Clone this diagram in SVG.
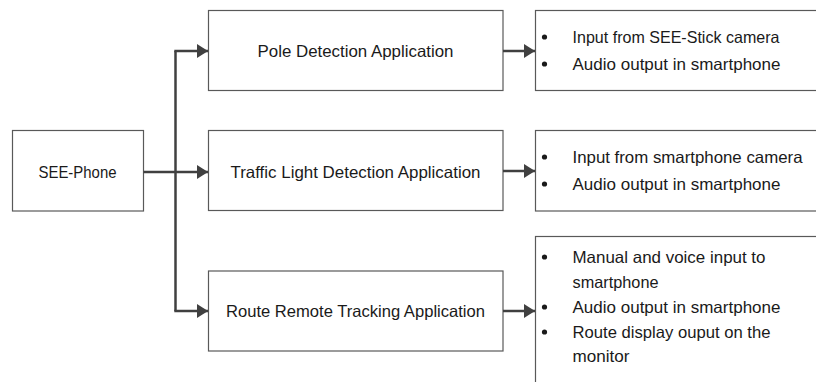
<svg xmlns="http://www.w3.org/2000/svg" width="816" height="382" viewBox="0 0 816 382">
<style>
.box{fill:#fff;stroke:#595959;stroke-width:1.2}
.t{font-family:"Liberation Sans",Arial,sans-serif;font-size:16.5px;fill:#1a1a1a}
.c{text-anchor:middle}
.con{fill:none;stroke:#404040;stroke-width:2.5}
.dot{fill:#1a1a1a}
</style>
<defs>
<marker id="arr" markerUnits="userSpaceOnUse" markerWidth="12" markerHeight="14" refX="11" refY="7" orient="auto">
<path d="M0,0 L11,7 L0,14 Z" fill="#404040"/>
</marker>
</defs>
<rect width="816" height="382" fill="#fff"/>
<g id="see-phone">
<rect class="box" x="12.5" y="130.5" width="131" height="80.5"/>
<text class="t c" x="77.5" y="178" textLength="78" lengthAdjust="spacingAndGlyphs">SEE-Phone</text>
</g>
<g id="pole">
<rect class="box" x="208.5" y="10.5" width="294.5" height="80"/>
<text class="t c" x="355.5" y="57" textLength="196" lengthAdjust="spacingAndGlyphs">Pole Detection Application</text>
</g>
<g id="traffic">
<rect class="box" x="208.5" y="130.5" width="294.5" height="80"/>
<text class="t c" x="355.5" y="178" textLength="250" lengthAdjust="spacingAndGlyphs">Traffic Light Detection Application</text>
</g>
<g id="route">
<rect class="box" x="208.5" y="271" width="294.5" height="80"/>
<text class="t c" x="355.5" y="317" textLength="259" lengthAdjust="spacingAndGlyphs">Route Remote Tracking Application</text>
</g>
<g id="pole-notes">
<rect class="box" x="535.5" y="10.5" width="300" height="80"/>
<circle class="dot" cx="544.5" cy="37" r="2.6"/>
<circle class="dot" cx="544.5" cy="64" r="2.6"/>
<text class="t" x="572.5" y="43" textLength="207" lengthAdjust="spacingAndGlyphs">Input from SEE-Stick camera</text>
<text class="t" x="572.5" y="70" textLength="208" lengthAdjust="spacingAndGlyphs">Audio output in smartphone</text>
</g>
<g id="traffic-notes">
<rect class="box" x="535.5" y="130.5" width="300" height="80.5"/>
<circle class="dot" cx="544.5" cy="157" r="2.6"/>
<circle class="dot" cx="544.5" cy="184" r="2.6"/>
<text class="t" x="572.5" y="163" textLength="230" lengthAdjust="spacingAndGlyphs">Input from smartphone camera</text>
<text class="t" x="572.5" y="190" textLength="208" lengthAdjust="spacingAndGlyphs">Audio output in smartphone</text>
</g>
<g id="route-notes">
<rect class="box" x="535.5" y="236.5" width="300" height="160"/>
<circle class="dot" cx="544.5" cy="257" r="2.6"/>
<circle class="dot" cx="544.5" cy="307" r="2.6"/>
<circle class="dot" cx="544.5" cy="332" r="2.6"/>
<text class="t" x="572.5" y="263" textLength="193" lengthAdjust="spacingAndGlyphs">Manual and voice input to</text>
<text class="t" x="572.5" y="288" textLength="86" lengthAdjust="spacingAndGlyphs">smartphone</text>
<text class="t" x="572.5" y="313" textLength="208" lengthAdjust="spacingAndGlyphs">Audio output in smartphone</text>
<text class="t" x="572.5" y="338" textLength="198" lengthAdjust="spacingAndGlyphs">Route display ouput on the</text>
<text class="t" x="572.5" y="361.5" textLength="57" lengthAdjust="spacingAndGlyphs">monitor</text>
</g>
<g id="connectors">
<path class="con" d="M175.5,311 V51"/>
<path class="con" d="M174.3,51 H208" marker-end="url(#arr)"/>
<path class="con" d="M174.3,311 H208" marker-end="url(#arr)"/>
<path class="con" d="M143.5,172 H208" marker-end="url(#arr)"/>
<path class="con" d="M503,51 H535" marker-end="url(#arr)"/>
<path class="con" d="M503,171 H535" marker-end="url(#arr)"/>
<path class="con" d="M503,311 H535" marker-end="url(#arr)"/>
</g>
</svg>
